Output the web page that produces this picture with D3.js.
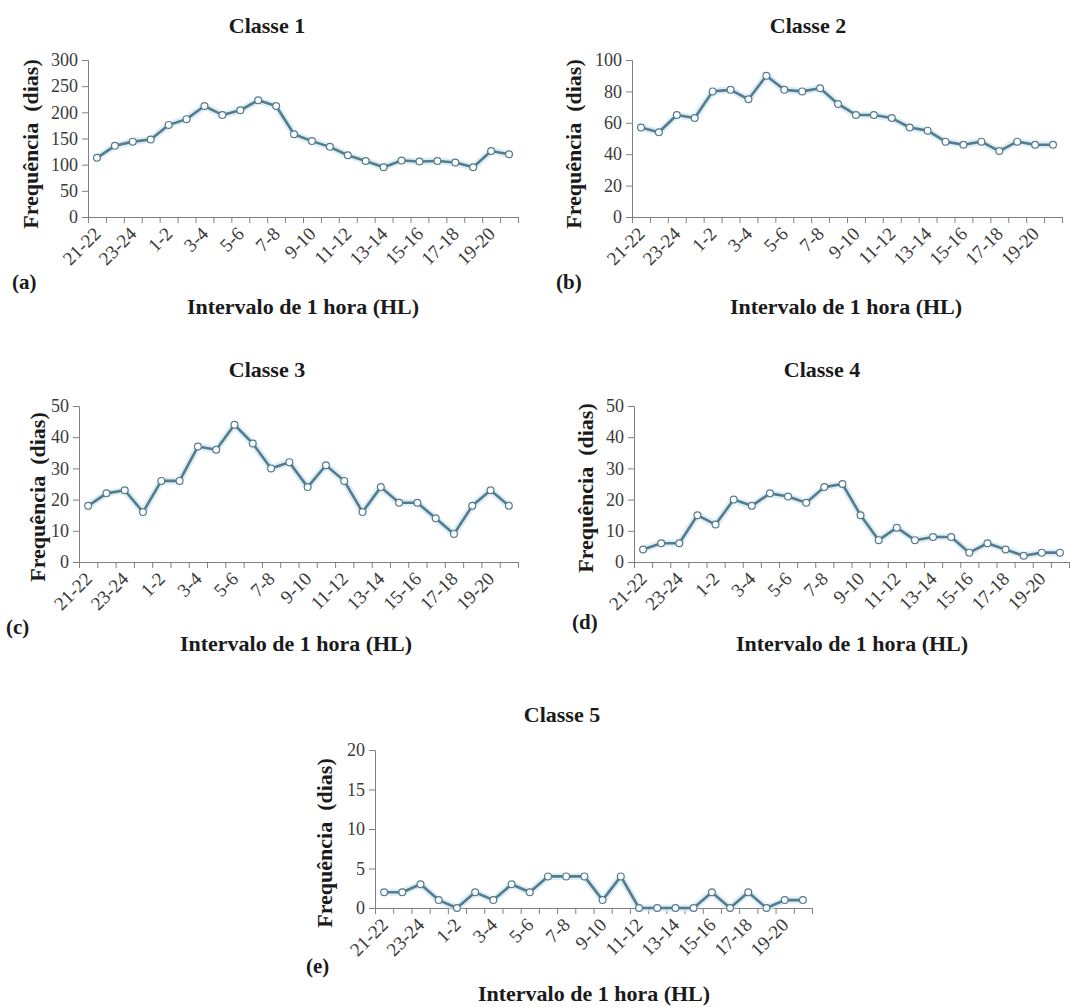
<!DOCTYPE html>
<html>
<head>
<meta charset="utf-8">
<script src="https://cdn.jsdelivr.net/npm/d3@7"></script>
<style>
  html, body { margin: 0; padding: 0; background: #fff; }
  svg text { font-family: "Liberation Serif", "Times New Roman", serif; }
  .tick text { fill: #3a3a3a; }
  .bold { font-weight: bold; fill: #1a1a1a; white-space: pre; }
</style>
</head>
<body>
<svg id="chart" width="1070" height="1007"></svg>
<script>
// Hourly intervals (local time), 21h through 20h of the next day
const hours = ["21-22","22-23","23-24","0-1","1-2","2-3","3-4","4-5","5-6","6-7","7-8","8-9",
               "9-10","10-11","11-12","12-13","13-14","14-15","15-16","16-17","17-18","18-19","19-20","20-21"];
const labelledHours = hours.filter((d, i) => i % 2 === 0);

// Frequency (days) per hourly interval, one series per class
const classe1 = [113,136,144,148,176,187,212,195,204,223,212,158,145,134,118,107,95,108,106,107,104,95,126,120];
const classe2 = [57,54,65,63,80,81,75,90,81,80,82,72,65,65,63,57,55,48,46,48,42,48,46,46];
const classe3 = [18,22,23,16,26,26,37,36,44,38,30,32,24,31,26,16,24,19,19,14,9,18,23,18];
const classe4 = [4,6,6,15,12,20,18,22,21,19,24,25,15,7,11,7,8,8,3,6,4,2,3,3];
const classe5 = [2,2,3,1,0,2,1,3,2,4,4,4,1,4,0,0,0,0,2,0,2,0,1,1];

// Y-axis tick values per class
const ticks1 = [0,50,100,150,200,250,300];
const ticks2 = [0,20,40,60,80,100];
const ticks3 = [0,10,20,30,40,50];
const ticks4 = [0,10,20,30,40,50];
const ticks5 = [0,5,10,15,20];

const titles = ["Classe 1","Classe 2","Classe 3","Classe 4","Classe 5"];
const panelTags = ["(a)","(b)","(c)","(d)","(e)"];

const lineColor = "#547b8e";
const axisColor = "#808080";

// Layout of each small multiple
const layout = [
  { data: classe1, ticks: ticks1, x0: 88,  x1: 518,  yBot: 217, yTop: 60,
    titleX: 267, titleY: 33, ylabX: 30, ylabY: 144, tagX: 12, tagY: 289, xtitX: 303, xtitY: 314 },
  { data: classe2, ticks: ticks2, x0: 632, x1: 1062, yBot: 217, yTop: 60,
    titleX: 808, titleY: 33, ylabX: 573, ylabY: 144, tagX: 556, tagY: 289, xtitX: 846, xtitY: 314 },
  { data: classe3, ticks: ticks3, x0: 79,  x1: 518,  yBot: 562, yTop: 406,
    titleX: 267, titleY: 377, ylabX: 37, ylabY: 497, tagX: 6, tagY: 634, xtitX: 296, xtitY: 651 },
  { data: classe4, ticks: ticks4, x0: 634, x1: 1069, yBot: 562, yTop: 406,
    titleX: 822, titleY: 377, ylabX: 585, ylabY: 488, tagX: 572, tagY: 629, xtitX: 852, xtitY: 651 },
  { data: classe5, ticks: ticks5, x0: 375, x1: 812,  yBot: 908, yTop: 750,
    titleX: 562, titleY: 722, ylabX: 324, ylabY: 843, tagX: 306, tagY: 973, xtitX: 594, xtitY: 1001 }
];

const svg = d3.select("#chart");
svg.append("rect").attr("width", 1070).attr("height", 1007).attr("fill", "#fff");

layout.forEach((p, k) => {
  const g = svg.append("g");

  const x = d3.scaleBand().domain(hours).range([p.x0, p.x1]).padding(0);
  const xb = d3.scaleLinear().domain([0, hours.length]).range([p.x0, p.x1]);
  const y = d3.scaleLinear().domain([0, d3.max(p.ticks)]).range([p.yBot, p.yTop]);

  // Y axis
  const ya = g.append("g").attr("transform", `translate(${p.x0},0)`)
    .call(d3.axisLeft(y).tickValues(p.ticks).tickSize(6).tickPadding(4));
  ya.select(".domain").attr("stroke", axisColor);
  ya.selectAll(".tick line").attr("stroke", axisColor);
  ya.selectAll(".tick text").attr("font-size", 18);

  // X axis: tick marks on category boundaries
  const xa = g.append("g").attr("transform", `translate(0,${p.yBot})`)
    .call(d3.axisBottom(xb).tickValues(d3.range(0, hours.length + 1)).tickSize(6).tickFormat(""));
  xa.select(".domain").attr("stroke", axisColor);
  xa.selectAll(".tick line").attr("stroke", axisColor);

  // X labels on every other category, rotated
  const xl = g.append("g").attr("transform", `translate(0,${p.yBot})`)
    .call(d3.axisBottom(x).tickValues(labelledHours).tickSize(0).tickPadding(0));
  xl.select(".domain").remove();
  xl.selectAll(".tick text")
    .attr("font-size", 19)
    .attr("text-anchor", "end")
    .attr("dy", 0)
    .attr("transform", "translate(5,18) rotate(-45)");

  // Line with soft halo and hollow markers
  const line = d3.line()
    .x((d, i) => x(hours[i]) + x.bandwidth() / 2)
    .y(d => y(d));

  g.append("path").datum(p.data)
    .attr("d", line).attr("fill", "none")
    .attr("stroke", "#cfe5ef").attr("stroke-width", 7).attr("stroke-linejoin", "round")
    .attr("opacity", 0.7);
  g.append("path").datum(p.data)
    .attr("d", line).attr("fill", "none")
    .attr("stroke", lineColor).attr("stroke-width", 2.6).attr("stroke-linejoin", "round");

  g.selectAll("circle.pt").data(p.data).join("circle")
    .attr("class", "pt")
    .attr("cx", (d, i) => x(hours[i]) + x.bandwidth() / 2)
    .attr("cy", d => y(d))
    .attr("r", 3.4)
    .attr("fill", "#fff")
    .attr("stroke", lineColor)
    .attr("stroke-width", 1.2);

  // Texts
  g.append("text").attr("class", "bold")
    .attr("x", p.titleX).attr("y", p.titleY)
    .attr("text-anchor", "middle").attr("font-size", 22)
    .text(titles[k]);

  g.append("text").attr("class", "bold")
    .attr("transform", `translate(${p.ylabX},${p.ylabY}) rotate(-90)`)
    .attr("text-anchor", "middle").attr("dy", "0.35em").attr("font-size", 22)
    .text("Frequência  (dias)");

  g.append("text").attr("class", "bold")
    .attr("x", p.tagX).attr("y", p.tagY).attr("font-size", 21)
    .text(panelTags[k]);

  g.append("text").attr("class", "bold")
    .attr("x", p.xtitX).attr("y", p.xtitY)
    .attr("text-anchor", "middle").attr("font-size", 22)
    .text("Intervalo de 1 hora (HL)");
});
</script>
</body>
</html>
